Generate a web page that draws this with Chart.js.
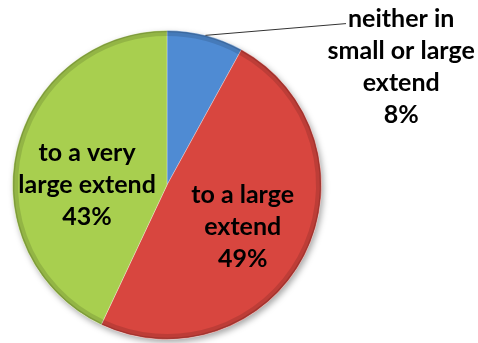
<!DOCTYPE html>
<html>
<head>
<meta charset="utf-8">
<script src="https://cdn.jsdelivr.net/npm/chart.js@4/dist/chart.umd.min.js"></script>
<style>
html,body{margin:0;padding:0;background:#fff;}
#wrap{width:478px;height:343px;position:relative;}
</style>
</head>
<body>
<div id="wrap"><canvas id="c" width="478" height="343"></canvas></div>
<script>
const categories = ["neither in small or large extend", "to a large extend", "to a very large extend"];
const labelLines = [["neither in", "small or large", "extend"], ["to a large", "extend"], ["to a very", "large extend"]];
const values = [8, 49, 43];
const topColors = ["#4f8bd3", "#d8463f", "#a8cf4f"];
const bottomColors = ["#3870b4", "#a52f2c", "#8aab3b"];

const FONT = 'bold 25px Lato, "DejaVu Sans", sans-serif';

function sliceFill(ctx) {
  const chart = ctx.chart;
  const area = chart.chartArea;
  if (!area) return topColors[ctx.dataIndex];
  const meta = chart.getDatasetMeta(0);
  const el = meta.data[ctx.dataIndex];
  if (!el || !el.outerRadius) return topColors[ctx.dataIndex];
  const g = chart.ctx.createLinearGradient(0, el.y - el.outerRadius, 0, el.y + el.outerRadius);
  g.addColorStop(0, topColors[ctx.dataIndex]);
  g.addColorStop(1, bottomColors[ctx.dataIndex]);
  return g;
}

const labelPlugin = {
  id: 'labels',
  beforeDatasetsDraw(chart) {
    const meta = chart.getDatasetMeta(0);
    const el = meta.data[0];
    const c = chart.ctx;
    c.save();
    c.shadowColor = 'rgba(0,0,0,0.35)';
    c.shadowBlur = 6;
    c.shadowOffsetX = 2;
    c.shadowOffsetY = 3;
    c.beginPath();
    c.arc(el.x, el.y, el.outerRadius, 0, Math.PI * 2);
    c.fillStyle = '#ffffff';
    c.fill();
    c.restore();
  },
  afterDatasetsDraw(chart) {
    const c = chart.ctx;
    const meta = chart.getDatasetMeta(0);
    const total = values.reduce((a, b) => a + b, 0);
    meta.data.forEach((el, i) => {
      c.save();
      c.beginPath();
      c.arc(el.x, el.y, el.outerRadius - 3, el.startAngle, el.endAngle);
      c.strokeStyle = 'rgba(0,0,0,0.12)';
      c.lineWidth = 5;
      c.stroke();
      c.beginPath();
      c.arc(el.x, el.y, el.outerRadius - 1, el.startAngle, el.endAngle);
      c.strokeStyle = 'rgba(0,0,0,0.15)';
      c.lineWidth = 1.5;
      c.stroke();
      c.restore();
    });
    c.save();
    c.font = FONT;
    c.fillStyle = '#000';
    c.textAlign = 'center';
    c.textBaseline = 'middle';
    const lh = 32;
    meta.data.forEach((el, i) => {
      const pct = Math.round(values[i] / total * 100) + '%';
      const lines = labelLines[i].concat([pct]);
      const mid = (el.startAngle + el.endAngle) / 2;
      const R = el.outerRadius;
      let cx, cy;
      if (i === 0) {
        const px = el.x + Math.cos(mid) * R;
        const py = el.y + Math.sin(mid) * R;
        cx = el.x + R * 1.516;
        const firstY = el.y - R * 1.077;
        const lx = cx - c.measureText(lines[0]).width / 2 - 2;
        c.beginPath();
        c.moveTo(px, py);
        c.lineTo(lx, firstY + 5);
        c.strokeStyle = '#333';
        c.lineWidth = 1;
        c.stroke();
        lines.forEach((t, k) => c.fillText(t, cx, firstY + k * lh));
      } else {
        const r = R * 0.55;
        cx = el.x + Math.cos(mid) * r;
        cy = el.y + Math.sin(mid) * r;
        if (i === 1) { cy += 3; }
        if (i === 2) { cx += 3; cy += 18; }
        const y0 = cy - (lines.length - 1) * lh / 2;
        lines.forEach((t, k) => c.fillText(t, cx, y0 + k * lh));
      }
    });
    c.restore();
  }
};

new Chart(document.getElementById('c'), {
  type: 'pie',
  data: {
    labels: categories,
    datasets: [{
      data: values,
      backgroundColor: sliceFill,
      borderColor: 'rgba(255,255,255,0.3)',
      borderWidth: 1
    }]
  },
  options: {
    responsive: false,
    animation: false,
    layout: { padding: { left: 12, top: 30, right: 156, bottom: 3 } },
    plugins: { legend: { display: false }, tooltip: { enabled: false } }
  },
  plugins: [labelPlugin]
});
</script>
</body>
</html>
